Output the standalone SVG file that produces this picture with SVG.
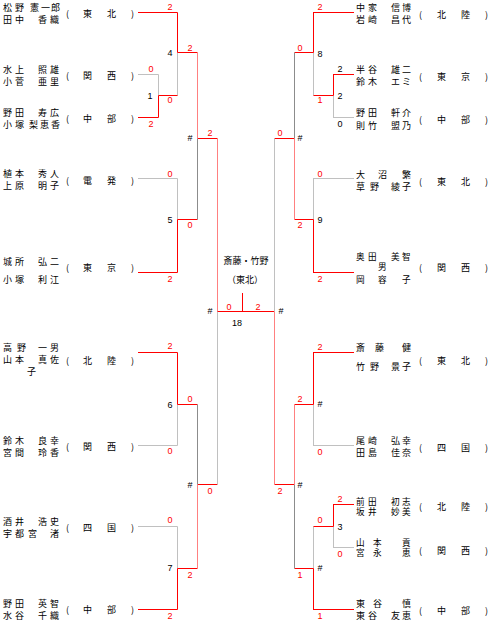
<svg xmlns="http://www.w3.org/2000/svg" width="490" height="621" viewBox="0 0 490 621">
<style>
.n{font-family:"Noto Sans CJK JP","Noto Sans CJK SC",sans-serif;font-size:9px;fill:#000}
.t{font-family:"Noto Sans CJK JP","Noto Sans CJK SC",sans-serif;font-size:8.6px;fill:#000}
.s{font-family:"Liberation Sans",Arial,sans-serif;font-size:9px;fill:#ff0000;text-anchor:middle}
.k{font-family:"Liberation Sans",Arial,sans-serif;font-size:9px;fill:#000;text-anchor:middle}
.c{font-family:"Noto Sans CJK JP","Noto Sans CJK SC",sans-serif;font-size:9px;fill:#000;text-anchor:middle}
.r{stroke:#ff0000;stroke-width:1;fill:none}
.p{stroke:#ff8080;stroke-width:1;fill:none}
.g{stroke:#c0c0c0;stroke-width:1;fill:none}
.d{stroke:#8c8c8c;stroke-width:1;fill:none}
</style>
<rect width="490" height="621" fill="#fff"/>
<g id="connectors">
<path class="r" d="M138 12.5H177.5M138 117.5H158.5M138 272.5H177.5M138 352.5H177.5M138 609.5H177.5"/>
<path class="g" d="M138 74.5H158.5M138 178.5H177.5M138 445.5H177.5M138 526.5H177.5"/>
<path class="g" d="M158.5 74.5V95.5M177.5 52.5V95.5M177.5 178.5V219.5M177.5 404.5V445.5M177.5 526.5V568.5"/>
<path class="r" d="M158.5 95.5V117.5M158.5 95.5H177.5M177.5 12.5V52.5M177.5 52.5H197.5M177.5 219.5V272.5M177.5 219.5H197.5M177.5 352.5V404.5M177.5 404.5H197.5M177.5 568.5V609.5M177.5 568.5H197.5M197.5 138.5H217.5M197.5 484.5H217.5"/>
<path class="p" d="M197.5 52.5V138.5M197.5 484.5V568.5M217.5 138.5V311.5"/>
<path class="d" d="M197.5 138.5V219.5M197.5 404.5V484.5"/>
<path class="g" d="M217.5 311.5V484.5"/>
<path class="r" d="M217.5 311.5H274.5M242.5 293V311.5"/>
<path class="r" d="M313 12.5H354M333 74.5H354M313 272.5H354M313 352.5H354M333 504.5H354M313 609.5H354"/>
<path class="g" d="M333 117.5H354M313 178.5H354M313 445.5H354M333 547.5H354"/>
<path class="g" d="M333.5 95.5V117.5M313.5 52.5V95.5M313.5 178.5V219.5M313.5 404.5V445.5M333.5 526.5V547.5M313.5 526.5V568.5"/>
<path class="r" d="M333.5 74.5V95.5M313.5 95.5H333.5M313.5 12.5V52.5M294.5 52.5H313.5M313.5 219.5V272.5M294.5 219.5H313.5M274.5 138.5H294.5M313.5 352.5V404.5M294.5 404.5H313.5M333.5 504.5V526.5M313.5 526.5H333.5M313.5 568.5V609.5M294.5 568.5H313.5M274.5 484.5H294.5"/>
<path class="d" d="M294.5 52.5V138.5M294.5 484.5V568.5"/>
<path class="p" d="M294.5 138.5V219.5M294.5 404.5V484.5M274.5 311.5V484.5"/>
<path class="g" d="M274.5 138.5V311.5"/>
</g>
<g id="e1"><text class="n" x="3 15 30 41 51" y="11">松野憲一郎</text><text class="n" x="3 15 38 50" y="23">田中香織</text><text class="n" x="66 83 107 131" y="17">(東北)</text><text class="s" x="170" y="10">2</text></g>
<g id="e2"><text class="n" x="3 15 38 50" y="73">水上照雄</text><text class="n" x="3 15 38 50" y="85">小菅亜里</text><text class="n" x="66 83 107 131" y="79">(関西)</text><text class="s" x="151" y="72">0</text></g>
<g id="e3"><text class="n" x="3 15 38 50" y="116">野田寿広</text><text class="n" x="3 15 29 40 51" y="128">小塚梨恵香</text><text class="n" x="66 83 107 131" y="122">(中部)</text><text class="s" x="151" y="127">2</text></g>
<g id="e4"><text class="n" x="3 15 38 50" y="177">植本秀人</text><text class="n" x="3 15 38 50" y="189">上原明子</text><text class="n" x="66 83 107 131" y="184">(電発)</text><text class="s" x="170" y="177">0</text></g>
<g id="e5"><text class="n" x="3 15 38 50" y="265">城所弘二</text><text class="n" x="3 15 38 50" y="283">小塚利江</text><text class="n" x="66 83 107 131" y="271">(東京)</text><text class="s" x="170" y="282">2</text></g>
<g id="e9"><text class="n" x="3 17 38 50" y="351">高野一男</text><text class="n" x="3 15 38 50" y="363">山本真佐</text><text class="n" x="27" y="375">子</text><text class="n" x="66 83 107 131" y="364">(北陸)</text><text class="s" x="170" y="349">2</text></g>
<g id="e10"><text class="n" x="3 15 38 50" y="444">鈴木良幸</text><text class="n" x="3 15 38 50" y="456">宮間玲香</text><text class="n" x="66 83 107 131" y="450">(関西)</text><text class="s" x="170" y="454">0</text></g>
<g id="e11"><text class="n" x="3 15 38 50" y="525">酒井浩史</text><text class="n" x="3 15 28 50" y="537">宇都宮渚</text><text class="n" x="66 83 107 131" y="531">(四国)</text><text class="s" x="170" y="523">0</text></g>
<g id="e12"><text class="n" x="3 15 38 50" y="607">野田英智</text><text class="n" x="3 15 38 50" y="618.5">水谷千織</text><text class="n" x="66 83 107 131" y="613">(中部)</text><text class="s" x="170" y="619">2</text></g>
<g id="r1"><text class="n" x="356 368 391 402" y="11">中家信博</text><text class="n" x="356 368 391 402" y="23">岩崎昌代</text><text class="n" x="419 437 461 485" y="18">(北陸)</text><text class="s" x="320" y="10">2</text></g>
<g id="r2"><text class="n" x="356 368 391 402" y="73">半谷雄二</text><text class="n" x="356 368 391 402" y="85">鈴木エミ</text><text class="n" x="419 437 461 485" y="80">(東京)</text><text class="k" x="340" y="72">2</text></g>
<g id="r3"><text class="n" x="356 368 391 402" y="116">野田軒介</text><text class="n" x="356 368 391 402" y="129">則竹盟乃</text><text class="n" x="419 437 461 485" y="123">(中部)</text><text class="k" x="340" y="127">0</text></g>
<g id="r4"><text class="n" x="356 378 402" y="178">大沼繁</text><text class="n" x="356 370 391 402" y="190">草野綾子</text><text class="n" x="419 437 461 485" y="185">(東北)</text><text class="s" x="320" y="177">0</text></g>
<g id="r5"><text class="t" x="356 368 391 402" y="259.5">奥田美智</text><text class="t" x="378" y="270">男</text><text class="t" x="356 378 402" y="283">岡容子</text><text class="n" x="419 437 461 485" y="271">(関西)</text><text class="s" x="320" y="282">2</text></g>
<g id="r6"><text class="n" x="356 375 402" y="351">斎藤健</text><text class="n" x="356 370 391 402" y="370">竹野景子</text><text class="n" x="419 437 461 485" y="364">(東北)</text><text class="s" x="320" y="350">2</text></g>
<g id="r7"><text class="n" x="356 368 391 402" y="444">尾崎弘幸</text><text class="n" x="356 368 391 402" y="456">田島佳奈</text><text class="n" x="419 437 461 485" y="451">(四国)</text><text class="s" x="320" y="455">0</text></g>
<g id="r8"><text class="t" x="356 368 391 402" y="504.5">前田初志</text><text class="t" x="356 368 391 402" y="515">坂井妙美</text><text class="n" x="419 437 461 485" y="510">(北陸)</text><text class="s" x="340" y="502">2</text></g>
<g id="r9"><text class="t" x="356 373 402" y="545.5">山本貢</text><text class="t" x="356 373 402" y="556">宮永恵</text><text class="n" x="419 437 461 485" y="554">(関西)</text><text class="s" x="340" y="557">0</text></g>
<g id="r10"><text class="n" x="356 373 402" y="607">東谷慎</text><text class="n" x="356 368 391 402" y="618.5">東谷友恵</text><text class="n" x="419 437 461 485" y="614">(中部)</text><text class="s" x="320" y="619">1</text></g>
<g id="m1"><text class="k" x="150" y="99">1</text><text class="s" x="170" y="103">0</text></g>
<g id="m4"><text class="k" x="170" y="56">4</text><text class="s" x="190" y="51">2</text></g>
<g id="m5"><text class="k" x="170" y="223">5</text><text class="s" x="190" y="228">0</text></g>
<g id="mLT"><text class="k" x="190" y="141">#</text><text class="s" x="210" y="136">2</text></g>
<g id="m6"><text class="k" x="170" y="408">6</text><text class="s" x="190" y="402">0</text></g>
<g id="m7"><text class="k" x="170" y="571">7</text><text class="s" x="190" y="578">2</text></g>
<g id="mLB"><text class="k" x="190" y="488">#</text><text class="s" x="210" y="494">0</text></g>
<g id="mSL"><text class="k" x="210" y="314">#</text><text class="s" x="229" y="310">0</text></g>
<g id="mSR"><text class="k" x="281" y="314">#</text><text class="s" x="258" y="310">2</text></g>
<g id="final"><text class="c" x="246" y="264">斎藤・竹野</text><text class="c" x="245" y="283">（東北）</text><text class="k" x="237" y="326">18</text></g>
<g id="m8"><text class="k" x="320" y="57">8</text><text class="s" x="300" y="51">0</text></g>
<g id="m2"><text class="k" x="340" y="99">2</text><text class="s" x="320" y="103">1</text></g>
<g id="m9"><text class="k" x="320" y="223">9</text><text class="s" x="300" y="228">2</text></g>
<g id="mRT"><text class="k" x="300" y="141">#</text><text class="s" x="280" y="136">0</text></g>
<g id="mR404"><text class="k" x="320" y="407">#</text><text class="s" x="300" y="402">2</text></g>
<g id="m3"><text class="k" x="340" y="530">3</text><text class="s" x="320" y="523">0</text></g>
<g id="mR568"><text class="k" x="320" y="571">#</text><text class="s" x="300" y="578">1</text></g>
<g id="mRB"><text class="k" x="300" y="488">#</text><text class="s" x="280" y="494">2</text></g>
</svg>
